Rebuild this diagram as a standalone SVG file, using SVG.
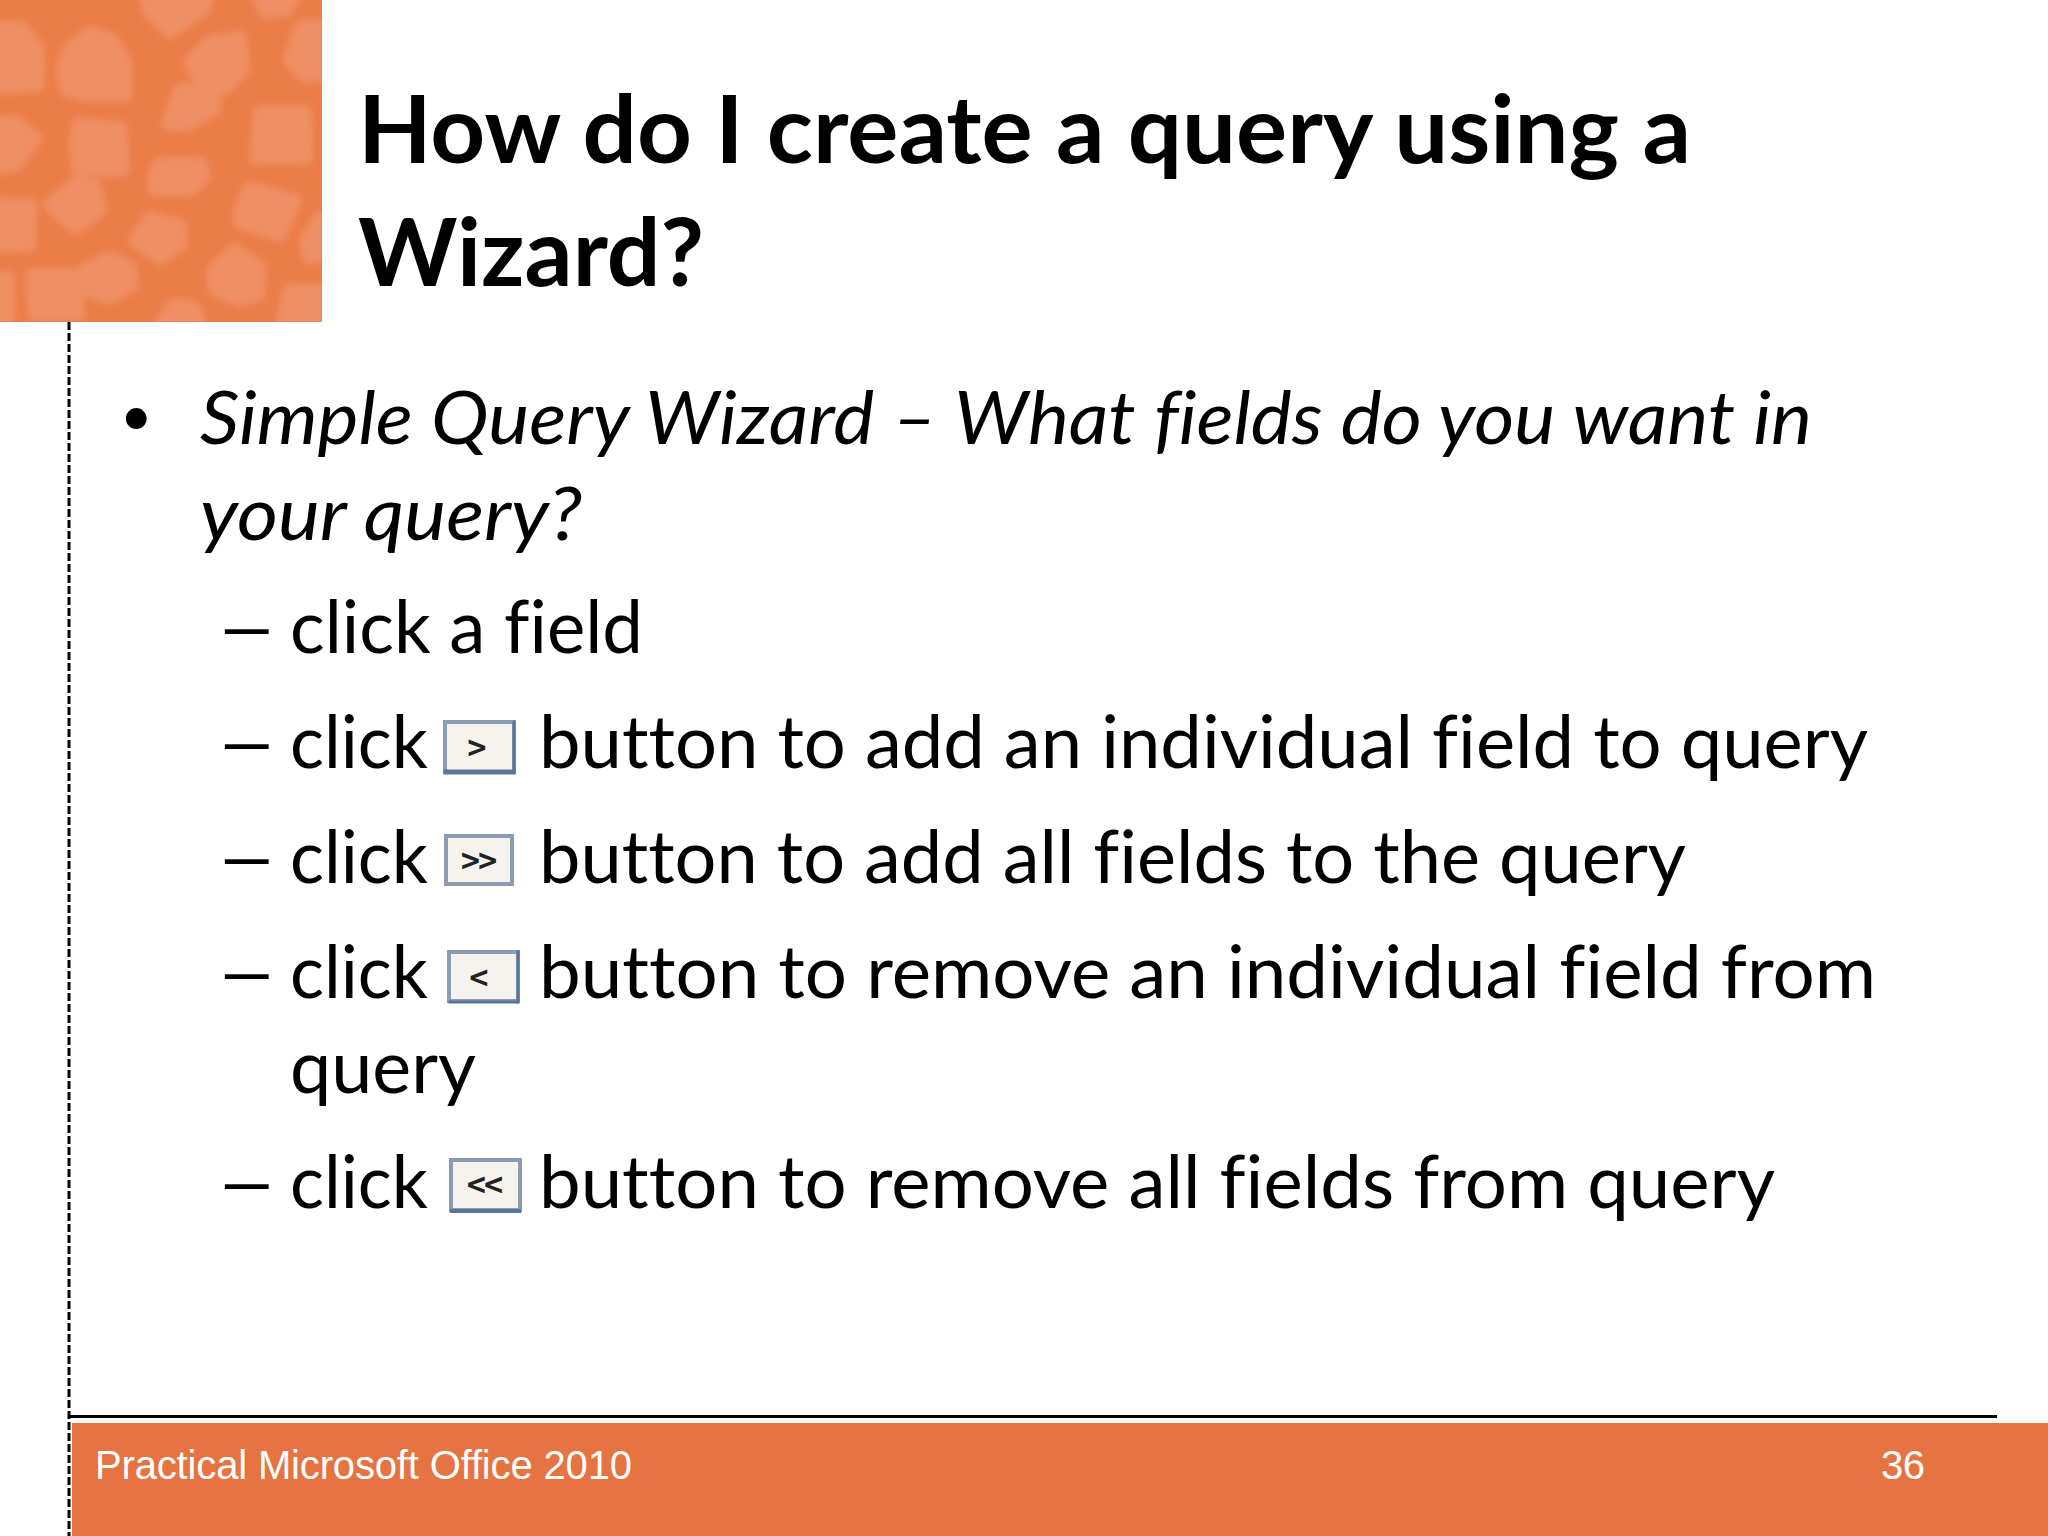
<svg xmlns="http://www.w3.org/2000/svg" width="2048" height="1536" viewBox="0 0 2048 1536">
<style>
.title{font:700 93px Lato,"Liberation Sans",sans-serif;font-variant-ligatures:none;fill:#000}
.body{font:400 73px Lato,"Liberation Sans",sans-serif;font-variant-ligatures:none;fill:#000}
.ital{font-style:italic}
.foot{font:400 40px "Liberation Sans",Arial,sans-serif;fill:#fff}
.blob{fill:#ee8e64;stroke:#ee8e64;stroke-width:14;stroke-linejoin:round}
.face{fill:#f6f3ee;stroke:#8b9db3;stroke-width:4}
.lip{fill:none;stroke:#5a7599;stroke-linecap:square}
.gl{font:700 32px "DejaVu Sans Mono","Liberation Mono",monospace;fill:#222;text-anchor:middle}
</style>
<defs>
<filter id="soft" x="-5%" y="-5%" width="110%" height="110%"><feGaussianBlur stdDeviation="3"/></filter>
<clipPath id="tile"><rect width="322" height="322"/></clipPath>
</defs>
<rect width="2048" height="1536" fill="#fff"/>
<g id="pattern" clip-path="url(#tile)">
<rect width="322" height="322" fill="#eb7d48"/>
<g filter="url(#soft)">
<polygon class="blob" points="-5,28 22,28 38,48 38,85 -5,88"/>
<polygon class="blob" points="90,33 112,40 125,62 125,95 85,95 66,90 62,70 70,48"/>
<polygon class="blob" points="145,-5 208,-5 205,8 170,32 150,12"/>
<polygon class="blob" points="258,-5 295,-5 285,10 265,12"/>
<polygon class="blob" points="210,42 240,38 243,70 225,88 205,90 190,62"/>
<polygon class="blob" points="300,28 325,25 325,75 305,76 290,60"/>
<polygon class="blob" points="180,90 212,92 215,108 190,124 168,124"/>
<polygon class="blob" points="260,112 305,112 306,158 256,158"/>
<polygon class="blob" points="-5,122 15,122 36,138 15,165 -5,168"/>
<polygon class="blob" points="78,124 120,128 123,170 78,170 76,145"/>
<polygon class="blob" points="160,164 200,164 204,176 190,190 155,190 154,176"/>
<polygon class="blob" points="75,184 95,186 100,210 75,228 50,205"/>
<polygon class="blob" points="-5,204 30,205 30,245 -5,246"/>
<polygon class="blob" points="150,218 180,225 180,245 160,258 135,240"/>
<polygon class="blob" points="250,188 295,200 280,235 240,222 240,210"/>
<polygon class="blob" points="320,218 325,255 310,258 306,240"/>
<polygon class="blob" points="110,258 130,268 132,285 110,298 85,290 85,270"/>
<polygon class="blob" points="235,250 260,268 258,295 240,300 215,290 213,270"/>
<polygon class="blob" points="32,275 75,275 78,315 35,315"/>
<polygon class="blob" points="-5,278 8,278 8,322 -5,322"/>
<polygon class="blob" points="290,290 325,290 325,325 282,325"/>
<polygon class="blob" points="175,305 195,308 200,325 160,325"/>
</g>
</g>
<g id="rules">
<line x1="69" y1="322" x2="69" y2="1536" stroke="#000" stroke-width="3" stroke-dasharray="8 3"/>
<line x1="69" y1="1416.500" x2="1997" y2="1416.500" stroke="#000" stroke-width="3"/>
<rect x="72" y="1423" width="1976" height="113" fill="#e67342"/>
</g>
<g id="title">
<text class="title" x="358" y="163" textLength="1333" lengthAdjust="spacingAndGlyphs">How do I create a query using a</text>
<text class="title" x="358" y="286" textLength="346" lengthAdjust="spacingAndGlyphs">Wizard?</text>
</g>
<g id="body">
<text class="body" x="120" y="435" style="font-size:56px">•</text>
<text class="body ital" x="200" y="444" textLength="1612" lengthAdjust="spacingAndGlyphs">Simple Query Wizard – What fields do you want in</text>
<text class="body ital" x="200" y="540" textLength="382" lengthAdjust="spacingAndGlyphs">your query?</text>
<text class="body" transform="translate(215 653) scale(1.5 1)">–</text>
<text class="body" x="290" y="653" textLength="353" lengthAdjust="spacingAndGlyphs">click a field</text>
<text class="body" transform="translate(215 768) scale(1.5 1)">–</text>
<text class="body" x="290" y="768" textLength="138" lengthAdjust="spacingAndGlyphs">click</text>
<text class="body" x="539" y="768" textLength="1329" lengthAdjust="spacingAndGlyphs">button to add an individual field to query</text>
<text class="body" transform="translate(215 883) scale(1.5 1)">–</text>
<text class="body" x="290" y="883" textLength="138" lengthAdjust="spacingAndGlyphs">click</text>
<text class="body" x="539" y="883" textLength="1147" lengthAdjust="spacingAndGlyphs">button to add all fields to the query</text>
<text class="body" transform="translate(215 998) scale(1.5 1)">–</text>
<text class="body" x="290" y="998" textLength="138" lengthAdjust="spacingAndGlyphs">click</text>
<text class="body" x="539" y="998" textLength="1337" lengthAdjust="spacingAndGlyphs">button to remove an individual field from</text>
<text class="body" x="290" y="1093" textLength="186" lengthAdjust="spacingAndGlyphs">query</text>
<text class="body" transform="translate(215 1208) scale(1.5 1)">–</text>
<text class="body" x="290" y="1208" textLength="138" lengthAdjust="spacingAndGlyphs">click</text>
<text class="body" x="539" y="1208" textLength="1236" lengthAdjust="spacingAndGlyphs">button to remove all fields from query</text>
</g>
<g id="button-add-one">
<rect class="face" x="445" y="722" width="69" height="50"/>
<path class="lip" stroke-width="5" d="M446 772H513"/><path class="lip" stroke-width="3" d="M514 722V772"/>
<text class="gl" x="477" y="758">&gt;</text>
</g>
<g id="button-add-all">
<rect class="face" x="446" y="836" width="66" height="48"/>
<text class="gl" x="478" y="871" letter-spacing="-2">&gt;&gt;</text>
</g>
<g id="button-remove-one">
<rect class="face" x="449" y="952" width="69" height="49"/>
<path class="lip" stroke-width="3" d="M450 1002H517"/><path class="lip" stroke-width="3" d="M518 952V1002"/>
<text class="gl" x="479" y="988">&lt;</text>
</g>
<g id="button-remove-all">
<rect class="face" x="451" y="1160" width="69" height="50"/>
<path class="lip" stroke-width="4" d="M452 1211H519"/>
<text class="gl" x="484" y="1195" letter-spacing="-2">&lt;&lt;</text>
</g>
<g id="footer">
<text class="foot" x="95" y="1479" textLength="537">Practical Microsoft Office 2010</text>
<text class="foot" x="1881" y="1479" textLength="44">36</text>
</g>
</svg>
